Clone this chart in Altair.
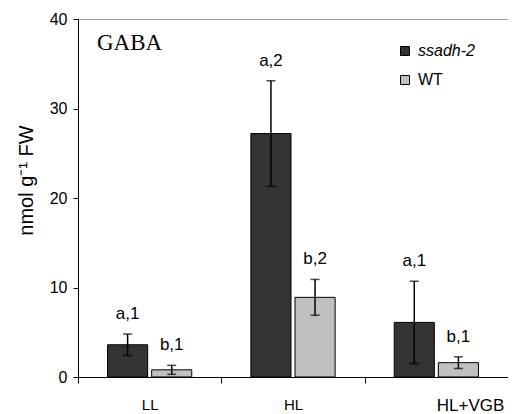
import altair as alt
import pandas as pd

categories = ["LL", "HL", "HL+VGB"]
series = ["ssadh-2", "WT"]
mean_ssadh = [3.6, 27.2, 6.1]
mean_wt = [0.8, 8.9, 1.6]
err_ssadh = [1.2, 5.9, 4.6]
err_wt = [0.5, 2.0, 0.65]
lab_ssadh = ["a,1", "a,2", "a,1"]
lab_wt = ["b,1", "b,2", "b,1"]
colors = ["#333333", "#c0c0c0"]

rows = []
for i, c in enumerate(categories):
    for s, m, e, l in [
        ("ssadh-2", mean_ssadh[i], err_ssadh[i], lab_ssadh[i]),
        ("WT", mean_wt[i], err_wt[i], lab_wt[i]),
    ]:
        rows.append({"cat": c, "series": s, "mean": m, "lo": m - e, "hi": m + e, "lab": l})
df = pd.DataFrame(rows)

xenc = alt.X(
    "cat:N",
    sort=categories,
    scale=alt.Scale(paddingInner=0, paddingOuter=0),
    axis=alt.Axis(
        title=None,
        labelAngle=0,
        tickBand="extent",
        tickSize=6,
        labelPadding=14,
        labelFontSize={"condition": {"test": "datum.value === 'HL+VGB'", "value": 17}, "value": 15},
        domainColor="black",
        tickColor="black",
        labelColor="black",
        labelAlign={"condition": {"test": "datum.value === 'HL+VGB'", "value": "left"}, "value": "center"},
    ),
)
xoff = alt.XOffset("series:N", sort=series, scale=alt.Scale(paddingInner=0.0909, paddingOuter=0.67))

yscale = alt.Scale(domain=[0, 40], nice=False)

bars = alt.Chart(df).mark_bar(stroke="black", strokeWidth=1).encode(
    x=xenc,
    xOffset=xoff,
    y=alt.Y(
        "mean:Q",
        scale=yscale,
        axis=alt.Axis(
            title="nmol g⁻¹ FW",
            values=[0, 10, 20, 30, 40],
            grid=False,
            tickSize=5,
            labelPadding=6,
            labelFontSize=16,
            titleFontSize=20,
            titleFontWeight="normal",
            titlePadding=13,
            titleY=161,
            domainColor="black",
            tickColor="black",
            labelColor="black",
            titleColor="black",
        ),
    ),
    fill=alt.Fill(
        "series:N",
        sort=series,
        scale=alt.Scale(domain=series, range=colors),
        legend=alt.Legend(
            title=None,
            orient="none",
            legendX=319,
            legendY=24,
            padding=0,
            symbolType="square",
            symbolSize=81,
            symbolStrokeColor="black",
            symbolStrokeWidth=1,
            labelFontSize=16,
            labelColor="black",
            labelOffset=5,
            rowPadding=13,
            labelFontStyle=alt.expr("datum.label == 'ssadh-2' ? 'italic' : 'normal'"),
        ),
    ),
)

rules = alt.Chart(df).mark_rule(color="black", strokeWidth=1.5).encode(
    x=alt.X("cat:N", sort=categories), xOffset=alt.XOffset("series:N", sort=series), y="lo:Q", y2="hi:Q"
)
cap_hi = alt.Chart(df).mark_tick(color="black", size=9, thickness=1.5).encode(
    x=alt.X("cat:N", sort=categories), xOffset=alt.XOffset("series:N", sort=series), y="hi:Q"
)
cap_lo = alt.Chart(df).mark_tick(color="black", size=9, thickness=1.5).encode(
    x=alt.X("cat:N", sort=categories), xOffset=alt.XOffset("series:N", sort=series), y="lo:Q"
)
texts = alt.Chart(df).mark_text(fontSize=17, baseline="middle", dy=-20, color="black").encode(
    x=alt.X("cat:N", sort=categories), xOffset=alt.XOffset("series:N", sort=series), y="hi:Q", text="lab:N"
)

chart = (
    alt.layer(bars, rules, cap_hi, cap_lo, texts)
    .properties(
        width=430,
        height=358,
        title=alt.TitleParams(
            "GABA",
            font="Liberation Serif",
            fontSize=23,
            fontWeight="normal",
            color="black",
            anchor="start",
            frame="group",
            orient="top",
            offset=-44,
            dx=19,
        ),
        autosize=alt.AutoSizeParams(type="none"),
        padding={"left": 70, "top": 11, "right": 0, "bottom": 40},
    )
    .configure(font="Liberation Sans")
    .configure_view(stroke="#a0a0a0", strokeWidth=1)
)

chart.save("out.html", embed_options={"renderer": "svg", "actions": False})
